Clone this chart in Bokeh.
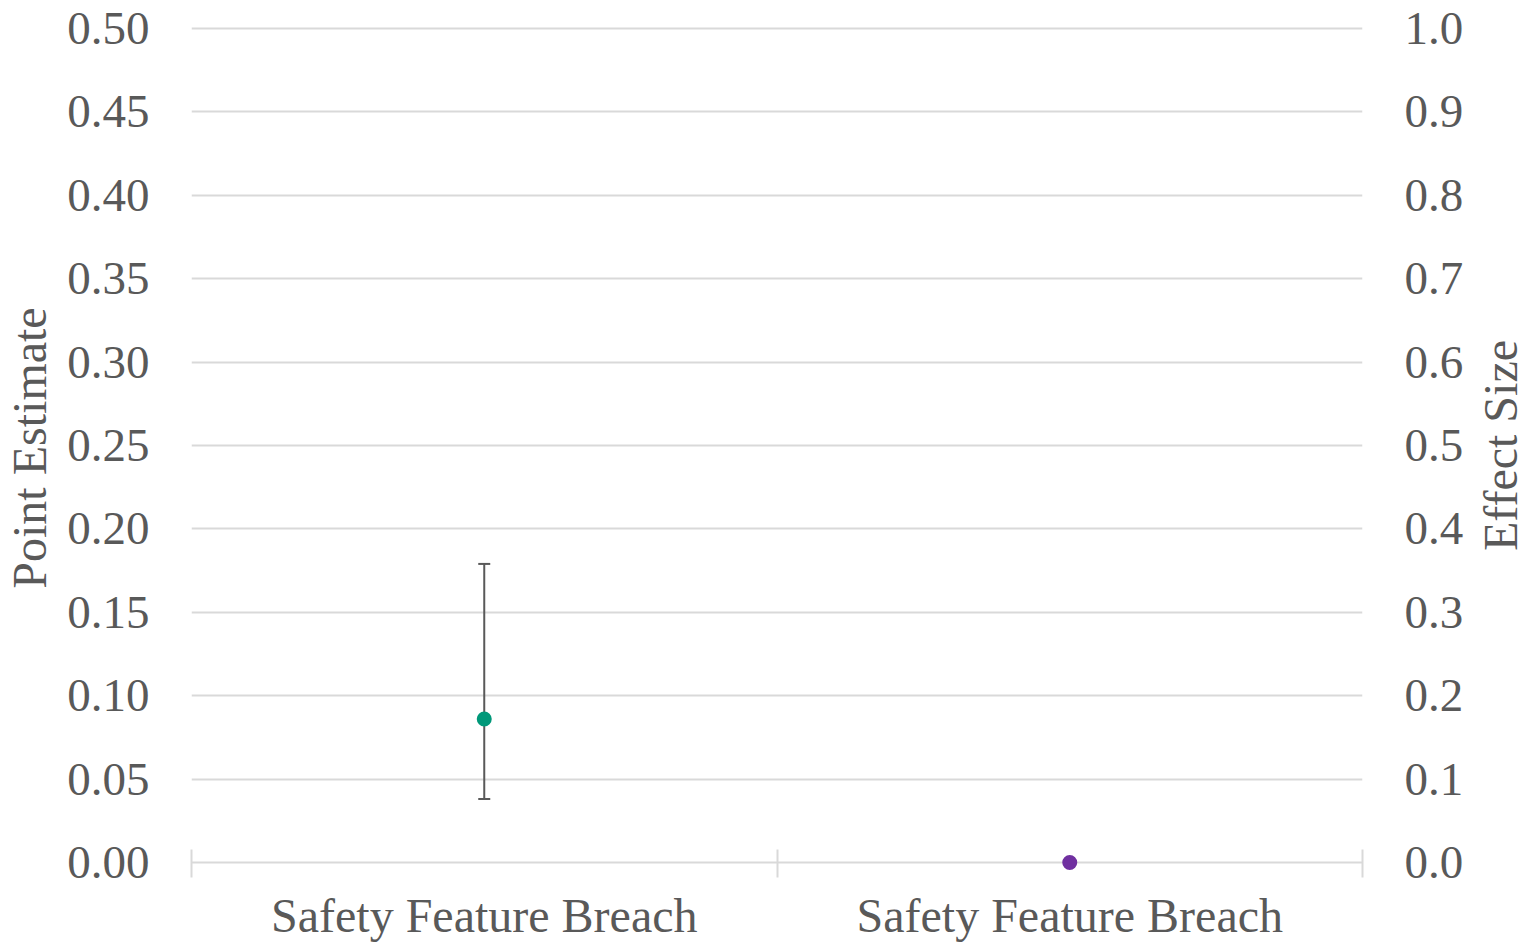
from math import pi
from bokeh.plotting import figure
from bokeh.layouts import row
from bokeh.models import (ColumnDataSource, FixedTicker, LinearAxis, Range1d,
                          NumeralTickFormatter, Whisker, TeeHead, Label)
from bokeh.embed import file_html
from bokeh.resources import INLINE

# Data
categories = ["Safety Feature Breach", "Safety Feature Breach"]
point_estimate = [0.086]
ci_lower = [0.038]
ci_upper = [0.179]
effect_size = [0.0]
left_ticks = [0.00, 0.05, 0.10, 0.15, 0.20, 0.25, 0.30, 0.35, 0.40, 0.45, 0.50]
right_ticks = [0.0, 0.1, 0.2, 0.3, 0.4, 0.5, 0.6, 0.7, 0.8, 0.9, 1.0]

FONT = "Liberation Serif"
TEXT = "#595959"
GRID = "#D9D9D9"
FS_TICK = "47px"
FS_LAB = "48px"

# category centres and the boundaries between them
centres = [i + 0.5 for i in range(len(categories))]
bounds = list(range(len(categories) + 1))

lo_pad, hi_pad = 0.006, 0.003
BORDER_TOP, BORDER_BOTTOM = 23, 72
p = figure(width=1471, height=944, output_backend="svg", toolbar_location=None,
           x_range=Range1d(0, len(categories)),
           y_range=Range1d(-lo_pad, 0.5 + hi_pad),
           min_border_left=191, min_border_right=109,
           min_border_top=BORDER_TOP, min_border_bottom=BORDER_BOTTOM,
           outline_line_color=None)
p.extra_y_ranges = {"effect": Range1d(-2 * lo_pad, 1.0 + 2 * hi_pad)}

# x axis: labels at category centres, separator ticks at boundaries
xa = p.xaxis[0]
xa.ticker = FixedTicker(ticks=centres, minor_ticks=bounds)
xa.major_label_overrides = {c: lab for c, lab in zip(centres, categories)}
xa.major_tick_line_color = None
xa.major_tick_out = 0
xa.major_tick_in = 0
xa.minor_tick_line_color = GRID
xa.minor_tick_line_width = 2
xa.minor_tick_in = 23
xa.minor_tick_out = 5
xa.axis_line_color = None
xa.major_label_standoff = 11
xa.major_label_text_font = FONT
xa.major_label_text_font_size = FS_LAB
xa.major_label_text_color = TEXT

# left axis
ya = p.yaxis[0]
ya.ticker = FixedTicker(ticks=left_ticks)
ya.formatter = NumeralTickFormatter(format="0.00")
ya.axis_label = "Point Estimate"
ya.axis_label_text_font = FONT
ya.axis_label_text_font_size = FS_LAB
ya.axis_label_text_font_style = "normal"
ya.axis_label_text_color = TEXT
ya.axis_label_standoff = 8

# right axis (effect size scale)
ra = LinearAxis(y_range_name="effect", ticker=FixedTicker(ticks=right_ticks),
                formatter=NumeralTickFormatter(format="0.0"))
p.add_layout(ra, "right")

for ax in (ya, ra):
    ax.axis_line_color = None
    ax.major_tick_line_color = None
    ax.minor_tick_line_color = None
    ax.major_tick_out = 0
    ax.major_tick_in = 0
    ax.major_label_standoff = 42
    ax.major_label_text_font = FONT
    ax.major_label_text_font_size = FS_TICK
    ax.major_label_text_color = TEXT

p.xgrid.grid_line_color = None
p.ygrid.ticker = FixedTicker(ticks=left_ticks)
p.ygrid.grid_line_color = GRID
p.ygrid.grid_line_width = 2

# point estimate with confidence interval
src = ColumnDataSource(dict(x=centres[:1], y=point_estimate,
                            lo=ci_lower, hi=ci_upper))
p.add_layout(Whisker(source=src, base="x", upper="hi", lower="lo",
                     line_color="#595959", line_width=2,
                     upper_head=TeeHead(size=12, line_color="#595959", line_width=2),
                     lower_head=TeeHead(size=12, line_color="#595959", line_width=2)))
p.scatter("x", "y", source=src, size=15, color="#009879", line_color=None)

# effect size on the secondary axis
src2 = ColumnDataSource(dict(x=centres[1:], y=effect_size))
p.scatter("x", "y", source=src2, y_range_name="effect", size=15,
          color="#7030A0", line_color=None)

# narrow strip to the right carrying the secondary axis title (bottom to top)
side = figure(width=50, height=944, output_backend="svg", toolbar_location=None,
              x_range=Range1d(0, 1), y_range=p.y_range,
              min_border_left=0, min_border_right=0,
              min_border_top=BORDER_TOP, min_border_bottom=BORDER_BOTTOM,
              outline_line_color=None)
side.axis.visible = False
side.grid.grid_line_color = None
side.add_layout(Label(x=0.58, y=0.25, text="Effect Size", angle=pi / 2,
                      text_align="center", text_baseline="middle",
                      text_font=FONT, text_font_size=FS_LAB, text_color=TEXT))

open("out.html", "w").write(file_html(row(p, side), INLINE))
